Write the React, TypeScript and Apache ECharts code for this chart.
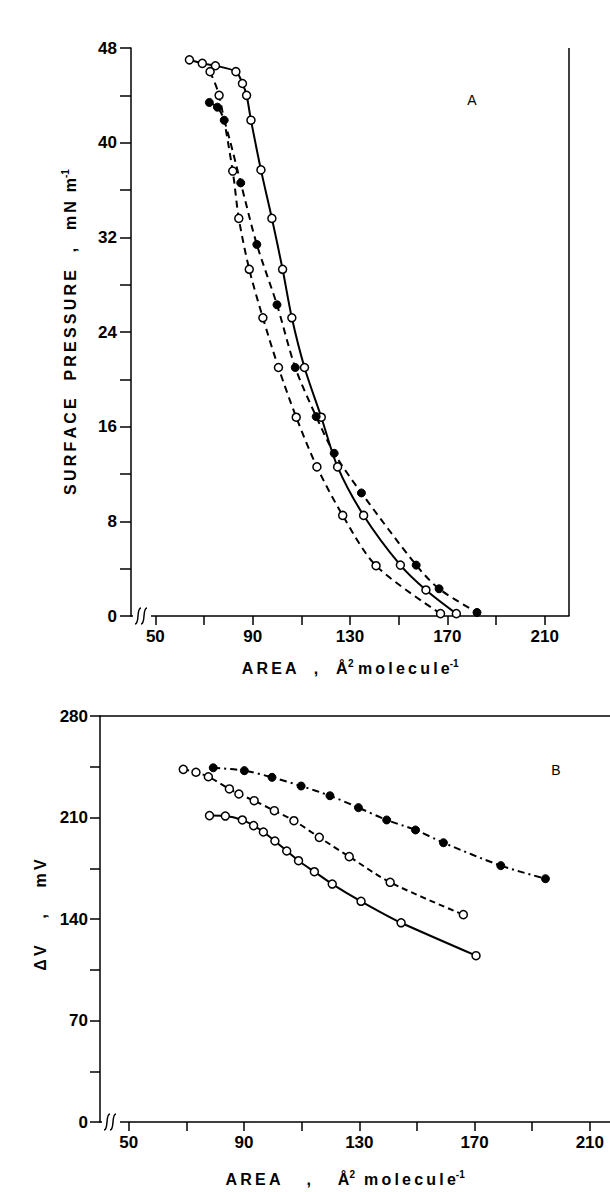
import React, { useEffect, useRef } from "react";
import * as echarts from "echarts";

// ---------- Panel A : surface pressure vs area ----------
const aSolidX = [64.0, 69.3, 74.7, 83.1, 85.8, 87.5, 89.3, 93.4, 97.9, 102.3, 106.1, 111.3, 118.2, 124.9, 135.6, 150.7, 161.2, 173.7];
const aSolidY = [47.0, 46.7, 46.5, 46.0, 45.0, 44.0, 41.9, 37.7, 33.6, 29.3, 25.2, 21.0, 16.8, 12.6, 8.5, 4.3, 2.2, 0.2];
const aDashOpenX = [72.5, 76.2, 81.8, 84.3, 88.6, 94.2, 100.6, 107.9, 116.4, 127.0, 140.7, 167.2];
const aDashOpenY = [46.0, 44.0, 37.6, 33.6, 29.3, 25.2, 21.0, 16.8, 12.6, 8.5, 4.25, 0.2];
const aDashFilledX = [72.2, 75.5, 78.3, 85.1, 91.7, 100.0, 107.5, 116.1, 123.5, 134.7, 157.2, 166.6, 182.2];
const aDashFilledY = [43.4, 43.0, 41.9, 36.6, 31.4, 26.3, 21.0, 16.85, 13.75, 10.4, 4.3, 2.3, 0.3];
const aXTicks = [50, 70, 90, 110, 130, 150, 170, 190, 210];
const aXLabels = [50, 90, 130, 170, 210];

// ---------- Panel B : surface potential vs area ----------
const bFilledX = [79.3, 90.1, 99.7, 109.8, 119.8, 129.7, 139.5, 149.5, 159.2, 179.1, 194.6];
const bFilledY = [244.3, 242.3, 237.7, 231.7, 225.0, 216.8, 208.3, 201.4, 192.6, 176.8, 167.8];
const bDashOpenX = [68.9, 73.3, 77.6, 84.9, 88.2, 93.5, 100.5, 107.3, 116.1, 126.5, 140.7, 166.1];
const bDashOpenY = [243.2, 241.2, 238.1, 229.7, 226.2, 221.6, 214.7, 207.8, 196.3, 183.0, 165.3, 143.0];
const bSolidX = [78.0, 83.5, 89.4, 93.3, 96.7, 100.7, 104.8, 108.9, 114.4, 120.6, 130.6, 144.5, 170.5];
const bSolidY = [211.3, 211.0, 208.3, 204.4, 200.0, 193.8, 186.9, 180.2, 172.6, 164.1, 152.2, 137.4, 114.7];
const bXTicks = [50, 70, 90, 110, 130, 150, 170, 190, 210];
const bXLabels = [50, 90, 130, 170, 210];

const FONT = "Liberation Sans";

const pairs = (xs: number[], ys: number[]) => xs.map((x, i) => [x, ys[i]]);

const openSym = {
  symbol: "circle",
  symbolSize: 8,
  itemStyle: { color: "#fff", borderColor: "#000", borderWidth: 1.5 },
};
const filledSym = {
  symbol: "circle",
  symbolSize: 8,
  itemStyle: { color: "#000", borderColor: "#000", borderWidth: 1 },
};

function mkSeries(name: string, xi: number, yi: number, xs: number[], ys: number[], sym: any, lineType: any) {
  return {
    name,
    type: "line",
    xAxisIndex: xi,
    yAxisIndex: yi,
    data: pairs(xs, ys),
    smooth: 0.3,
    ...sym,
    lineStyle: { color: "#000", width: 2, type: lineType },
    z: 3,
  };
}

const tickLabel = { fontFamily: FONT, fontWeight: "bold", fontSize: 17, color: "#000" };

function breakMark(x: number, y: number) {
  const c = (dx: number) => ({
    type: "bezierCurve",
    shape: {
      x1: x + dx, y1: y + 8,
      cpx1: x + dx + 5, cpy1: y + 8,
      cpx2: x + dx + 1, cpy2: y - 8,
      x2: x + dx + 6, y2: y - 8,
    },
    style: { stroke: "#000", lineWidth: 1.5, fill: null },
    z: 10,
  });
  return [
    { type: "rect", shape: { x: x - 2, y: y - 3, width: 18, height: 6 }, style: { fill: "#fff" }, z: 9 },
    c(0),
    c(6),
  ];
}

const richTitle = {
  b: { fontFamily: FONT, fontWeight: "bold", fontSize: 16, color: "#000" },
  s: { fontFamily: FONT, fontWeight: "bold", fontSize: 10, color: "#000", verticalAlign: "top", padding: [0, 0, 10, 0] },
};

// spread letters to imitate the wide letter spacing of the original lettering
const sp = (s: string) => s.split("").join("\u2009");

export default function App() {
  const ref = useRef<HTMLDivElement>(null);
  useEffect(() => {
    document.body.style.margin = "0";
    const chart = echarts.init(ref.current!, null, { renderer: "svg" });
    const axisLine = { show: true, lineStyle: { color: "#000", width: 1.5 } };
    const option: any = {
      animation: false,
      backgroundColor: "#fff",
      grid: [
        { left: 131, top: 48, width: 438, height: 568 },
        { left: 100, top: 716, width: 510, height: 406 },
      ],
      xAxis: [
        {
          gridIndex: 0, type: "value", min: 40, max: 220,
          axisLine, splitLine: { show: false },
          axisTick: { show: true, inside: false, length: 9, customValues: aXTicks, lineStyle: { color: "#000", width: 1.5 } },
          axisLabel: { ...tickLabel, margin: 12, customValues: aXLabels },
        },
        {
          gridIndex: 1, type: "value", min: 40, max: 217,
          axisLine, splitLine: { show: false },
          axisTick: { show: true, inside: false, length: 9, customValues: bXTicks, lineStyle: { color: "#000", width: 1.5 } },
          axisLabel: { ...tickLabel, margin: 12, customValues: bXLabels },
        },
      ],
      yAxis: [
        {
          gridIndex: 0, type: "value", min: 0, max: 48, interval: 4,
          axisLine, splitLine: { show: false },
          axisTick: { show: true, inside: false, length: 11, lineStyle: { color: "#000", width: 1.5 } },
          axisLabel: { ...tickLabel, margin: 14, formatter: (v: number) => (v % 8 === 0 ? String(v) : "") },
        },
        {
          gridIndex: 1, type: "value", min: 0, max: 280, interval: 35,
          axisLine, splitLine: { show: false },
          axisTick: { show: true, inside: false, length: 10, lineStyle: { color: "#000", width: 1.5 } },
          axisLabel: { ...tickLabel, margin: 12, formatter: (v: number) => (v % 70 === 0 ? String(v) : "") },
        },
      ],
      series: [
        mkSeries("A solid", 0, 0, aSolidX, aSolidY, openSym, "solid"),
        mkSeries("A dashed open", 0, 0, aDashOpenX, aDashOpenY, openSym, [7, 5]),
        mkSeries("A dashed filled", 0, 0, aDashFilledX, aDashFilledY, filledSym, [7, 5]),
        mkSeries("B dash-dot filled", 1, 1, bFilledX, bFilledY, filledSym, [7, 4, 2, 4]),
        mkSeries("B dashed open", 1, 1, bDashOpenX, bDashOpenY, openSym, [6, 4]),
        mkSeries("B solid", 1, 1, bSolidX, bSolidY, openSym, "solid"),
      ],
      graphic: [
        { type: "line", shape: { x1: 569, y1: 48, x2: 569, y2: 616 }, style: { stroke: "#000", lineWidth: 1.5 } },
        { type: "line", shape: { x1: 100, y1: 716, x2: 610, y2: 716 }, style: { stroke: "#000", lineWidth: 1.5 } },
        ...breakMark(135, 616),
        ...breakMark(104, 1122),
        { type: "text", x: 472, y: 100, style: { text: "A", font: `14px "${FONT}"`, fill: "#000", align: "center", verticalAlign: "middle" } },
        { type: "text", x: 556, y: 770, style: { text: "B", font: `14px "${FONT}"`, fill: "#000", align: "center", verticalAlign: "middle" } },
        {
          type: "text", x: 350, y: 668,
          style: { text: `{b|${sp("AREA")}    ,    Å}{s|2}{b| ${sp("molecule")}}{s|-1}`, rich: richTitle, align: "center", verticalAlign: "middle" },
        },
        {
          type: "text", x: 345, y: 1179,
          style: { text: `{b|${sp("AREA")}      ,      Å}{s|2}{b|  ${sp("molecule")}}{s|-1}`, rich: richTitle, align: "center", verticalAlign: "middle" },
        },
        {
          type: "text", x: 70, y: 332, rotation: Math.PI / 2,
          style: { text: `{b|${sp("SURFACE")}    ${sp("PRESSURE")}    ,    ${sp("mN")}  m}{s|-1}`, rich: richTitle, align: "center", verticalAlign: "middle" },
        },
        {
          type: "text", x: 40, y: 915, rotation: Math.PI / 2,
          style: { text: `{b|${sp("ΔV")}      ,      ${sp("mV")}}`, rich: richTitle, align: "center", verticalAlign: "middle" },
        },
      ],
    };
    chart.setOption(option);
    return () => chart.dispose();
  }, []);
  return <div ref={ref} style={{ width: 610, height: 1192 }} />;
}
